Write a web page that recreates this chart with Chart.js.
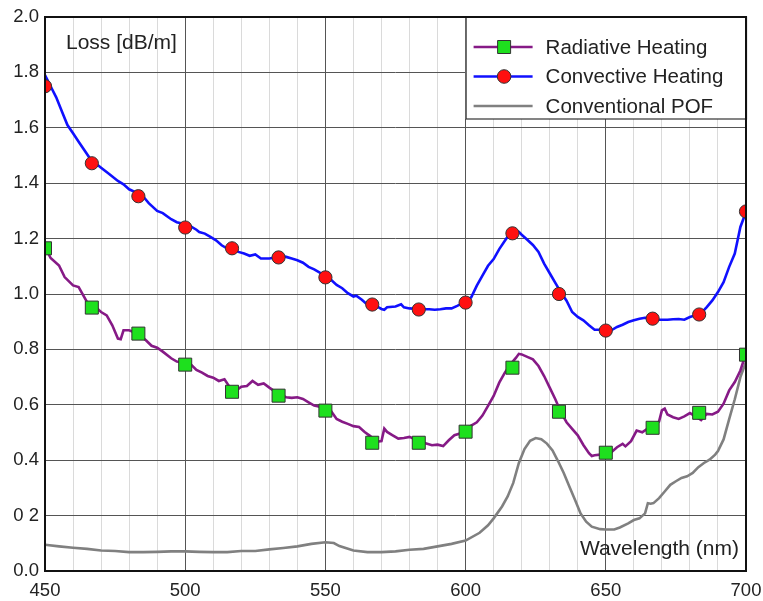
<!DOCTYPE html>
<html>
<head>
  <title>Loss spectrum</title>
  <script src="https://cdn.jsdelivr.net/npm/chart.js"></script>
  <style>
    body { margin: 0; background: #fff; }
  </style>
</head>
<body>
  <canvas id="lossChart" width="763" height="601"></canvas>

  <script>
    // Convective heating (blue line)
    const convWl = [450,452,454,456,458,460,462,464,466,468,470,473,476,478,480,483,485,487,490,492,495,497,500,
      502,504,505,507,509,511,513,515,517,519,521,523,525,527,530,532,534,536,538,540,542,544,546,548,550,
      552,554,556,558,560,561,563,565,567,569,570,571,572,575,577,578,580,583,585,587,589,591,593,595,597,599,600,
      602,604,606,608,610,612,614,616,617,618,619,620,622,624,626,628,630,632,634,636,638,640,642,644,646,648,650,
      652,654,656,658,660,662,664,666,668,670,672,674,676,678,680,682,684,686,688,690,692,694,696,697,698,700];
    const convLoss = [1.79,1.75,1.71,1.66,1.61,1.58,1.55,1.52,1.49,1.472,1.456,1.432,1.408,1.396,1.378,1.364,1.352,1.328,1.30,1.292,1.27,1.259,1.252,
      1.244,1.232,1.224,1.218,1.206,1.194,1.176,1.164,1.162,1.152,1.146,1.138,1.143,1.128,1.128,1.132,1.137,1.134,1.128,1.122,1.113,1.098,1.089,1.077,1.066,
      1.051,1.033,1.021,1.003,0.991,0.994,0.979,0.961,0.961,0.952,0.946,0.943,0.952,0.955,0.963,0.952,0.948,0.946,0.945,0.945,0.943,0.945,0.948,0.948,0.957,0.967,0.972,
      0.988,1.030,1.066,1.102,1.126,1.162,1.192,1.222,1.230,1.228,1.224,1.214,1.196,1.177,1.152,1.110,1.075,1.040,1.006,0.976,0.935,0.917,0.905,0.887,0.871,0.871,0.870,
      0.869,0.881,0.889,0.899,0.905,0.911,0.914,0.913,0.907,0.907,0.907,0.909,0.910,0.907,0.917,0.923,0.931,0.953,0.977,1.007,1.043,1.098,1.146,1.194,1.242,1.296];

    // Radiative heating (purple line)
    const radWl = [450,452,455,457,460,462,465,468,470,472,474,476,477,478,480,483,486,488,490,492,495,497,500,
      502,504,506,508,510,512,514,516,518,520,522,524,526,528,530,532,534,536,538,540,542,544,546,548,550,
      552,554,556,558,560,562,564,566,568,570,571,572,574,576,578,580,582,584,586,588,590,592,594,596,598,600,
      602,604,606,608,610,612,614,616,618,619,620,622,624,626,628,630,632,634,636,638,640,642,644,645,646,648,650,
      652,654,656,657,659,661,663,665,667,669,670,671,672,674,676,678,680,682,684,686,688,690,692,694,696,698,700];
    const radLoss = [1.169,1.13,1.103,1.061,1.031,1.025,0.971,0.953,0.935,0.923,0.887,0.839,0.837,0.869,0.869,0.857,0.833,0.813,0.806,0.792,0.768,0.756,0.752,
      0.746,0.726,0.716,0.704,0.698,0.686,0.692,0.662,0.650,0.665,0.668,0.686,0.672,0.677,0.662,0.648,0.639,0.627,0.625,0.627,0.621,0.609,0.597,0.593,0.589,
      0.578,0.549,0.539,0.531,0.523,0.520,0.502,0.487,0.466,0.469,0.514,0.502,0.490,0.478,0.480,0.484,0.475,0.466,0.460,0.454,0.456,0.451,0.472,0.490,0.496,0.513,
      0.525,0.537,0.561,0.596,0.632,0.680,0.716,0.746,0.770,0.784,0.782,0.773,0.764,0.740,0.704,0.662,0.620,0.573,0.537,0.513,0.490,0.455,0.425,0.415,0.418,0.420,0.420,
      0.429,0.447,0.459,0.450,0.469,0.507,0.501,0.515,0.525,0.540,0.580,0.586,0.565,0.555,0.549,0.558,0.570,0.558,0.545,0.567,0.565,0.575,0.604,0.652,0.682,0.724,0.786];

    // Conventional POF (grey line)
    const pofWl = [450,455,460,465,470,475,480,485,490,495,500,505,510,515,520,525,530,535,540,545,550,553,555,560,565,570,575,580,585,590,595,600,
      605,608,610,613,615,617,619,621,623,625,627,629,631,633,635,637,639,641,643,645,648,650,653,655,658,660,662,664,665,666,667,669,
      671,673,675,677,679,681,683,685,687,689,690,692,694,696,698,700];
    const pofLoss = [0.095,0.089,0.084,0.080,0.074,0.072,0.068,0.068,0.069,0.071,0.071,0.069,0.068,0.068,0.072,0.072,0.078,0.083,0.089,0.098,0.104,0.101,0.090,0.074,0.068,0.068,0.071,0.077,0.080,0.089,0.098,0.110,
      0.138,0.165,0.190,0.233,0.269,0.318,0.390,0.440,0.470,0.480,0.476,0.460,0.435,0.396,0.354,0.305,0.257,0.208,0.178,0.160,0.151,0.150,0.150,0.157,0.172,0.184,0.190,0.208,0.245,0.243,0.245,0.263,
      0.287,0.311,0.324,0.336,0.342,0.354,0.375,0.390,0.402,0.420,0.433,0.475,0.548,0.620,0.700,0.755];

    // symbols on the two heated fibres
    const markWl = [450,466.7,483.3,500,516.7,533.3,550,566.7,583.3,600,616.7,633.3,650,666.7,683.3,700];
    const convMarks = [1.75,1.472,1.353,1.24,1.165,1.132,1.06,0.962,0.944,0.969,1.219,1.0,0.868,0.911,0.926,1.298];
    const radMarks = [1.165,0.951,0.857,0.745,0.647,0.633,0.579,0.463,0.463,0.503,0.734,0.575,0.427,0.517,0.571,0.781];

    const yTicks = { 0.2: '0 2' };

    const pts = (xs, ys) => xs.map((x, i) => ({ x, y: ys[i] }));
    const FONT = '"Liberation Sans", Arial, sans-serif';
    const INK = '#222';

    const insetLegend = {
      id: 'insetLegend',
      afterDraw(chart) {
        const { ctx, chartArea: a } = chart;
        ctx.save();

        // axis titles inside the frame
        ctx.fillStyle = INK;
        ctx.font = '21px ' + FONT;
        ctx.textBaseline = 'alphabetic';
        ctx.textAlign = 'left';
        ctx.fillText('Loss [dB/m]', a.left + 21, a.top + 32);
        ctx.textAlign = 'right';
        ctx.fillText('Wavelength (nm)', a.right - 7, a.bottom - 16);

        // legend box
        const lx = chart.scales.x.getPixelForValue(600);
        const ly = a.top, lw = a.right - lx, lh = 102;
        ctx.fillStyle = '#fff';
        ctx.fillRect(lx, ly, lw, lh);
        ctx.strokeStyle = '#333';
        ctx.lineWidth = 1.2;
        ctx.strokeRect(lx + 0.5, ly, lw, lh);

        const rows = [
          { line: 1, mark: 3, text: 'Radiative Heating' },
          { line: 0, mark: 4, text: 'Convective Heating' },
          { line: 2, mark: null, text: 'Conventional POF' }
        ];
        rows.forEach((r, i) => {
          const y = ly + 30 + i * 29.5;
          const ds = chart.data.datasets[r.line];
          ctx.strokeStyle = ds.borderColor;
          ctx.lineWidth = ds.borderWidth;
          ctx.beginPath();
          ctx.moveTo(lx + 8, y);
          ctx.lineTo(lx + 67, y);
          ctx.stroke();
          if (r.mark !== null) {
            const m = chart.data.datasets[r.mark];
            ctx.fillStyle = m.pointBackgroundColor;
            ctx.strokeStyle = m.pointBorderColor;
            ctx.lineWidth = 1;
            ctx.beginPath();
            if (m.pointStyle === 'rect') {
              ctx.rect(lx + 32, y - 6.5, 13, 13);
            } else {
              ctx.arc(lx + 38.5, y, 6.8, 0, Math.PI * 2);
            }
            ctx.fill();
            ctx.stroke();
          }
          ctx.fillStyle = INK;
          ctx.font = '20.5px ' + FONT;
          ctx.textAlign = 'left';
          ctx.textBaseline = 'middle';
          ctx.fillText(r.text, lx + 80, y + 1);
        });

        // plot frame
        ctx.strokeStyle = '#111';
        ctx.lineWidth = 2;
        ctx.strokeRect(a.left, a.top, a.right - a.left, a.bottom - a.top);
        ctx.restore();
      }
    };

    new Chart(document.getElementById('lossChart'), {
      type: 'line',
      data: {
        datasets: [
          { label: 'Convective Heating', data: pts(convWl, convLoss), borderColor: '#1010ff', borderWidth: 2.6, pointRadius: 0, order: 3 },
          { label: 'Radiative Heating', data: pts(radWl, radLoss), borderColor: '#861a86', borderWidth: 2.6, pointRadius: 0, order: 4 },
          { label: 'Conventional POF', data: pts(pofWl, pofLoss), borderColor: '#808080', borderWidth: 2.6, pointRadius: 0, order: 5 },
          { label: 'Radiative marks', data: pts(markWl, radMarks), showLine: false, pointStyle: 'rect', pointRadius: 9.2,
            pointBackgroundColor: '#1ee01e', pointBorderColor: '#333', pointBorderWidth: 1, order: 1 },
          { label: 'Convective marks', data: pts(markWl, convMarks), showLine: false, pointStyle: 'circle', pointRadius: 6.6,
            pointBackgroundColor: '#ff1010', pointBorderColor: '#333', pointBorderWidth: 1, order: 0 }
        ]
      },
      options: {
        responsive: false,
        animation: false,
        layout: { padding: { top: 17, right: 17, left: 0, bottom: 0 } },
        plugins: { legend: { display: false }, tooltip: { enabled: false } },
        elements: { line: { tension: 0 } },
        scales: {
          x: {
            type: 'linear', min: 450, max: 700,
            afterFit: s => { s.height = 30; s.paddingLeft = 0; s.paddingRight = 0; },
            border: { display: false },
            grid: {
              drawTicks: false,
              color: c => c.tick.value % 50 === 0 ? '#555' : '#dadada',
              lineWidth: 1
            },
            ticks: {
              stepSize: 10, autoSkip: false, maxRotation: 0, padding: 9,
              color: INK, font: { family: FONT, size: 18.5 },
              callback: v => v % 50 === 0 ? String(v) : ''
            }
          },
          y: {
            min: 0, max: 2,
            afterFit: s => { s.width = 45; s.paddingTop = 0; s.paddingBottom = 0; },
            border: { display: false },
            grid: { drawTicks: false, color: '#555', lineWidth: 1 },
            ticks: {
              stepSize: 0.2, padding: 6,
              color: INK, font: { family: FONT, size: 18.5 },
              callback: v => {
                const k = Math.round(v * 10) / 10;
                return yTicks[k] || k.toFixed(1);
              }
            }
          }
        }
      },
      plugins: [insetLegend]
    });
  </script>
</body>
</html>
